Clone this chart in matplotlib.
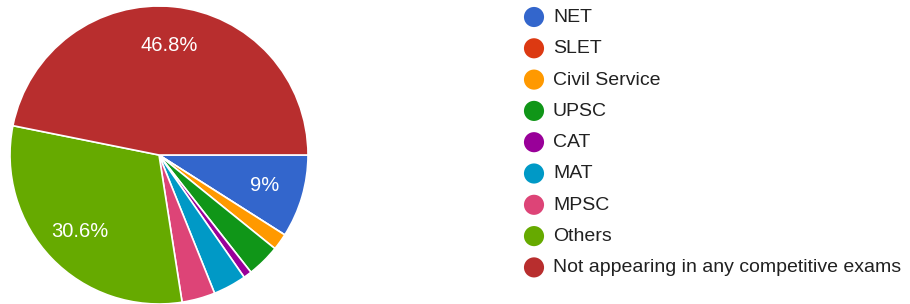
import math

import matplotlib
matplotlib.use("Agg")
import matplotlib.pyplot as plt

categories = ["NET", "SLET", "Civil Service", "UPSC", "CAT", "MAT", "MPSC",
              "Others", "Not appearing in any competitive exams"]
shares = [9.0, 0.0, 1.8, 3.6, 0.9, 3.6, 3.6, 30.6, 46.8]
colors = ["#3366cc", "#dc3912", "#ff9900", "#109618", "#990099", "#0099c6",
          "#dd4477", "#66aa00", "#b82e2e"]

plt.rcParams["font.family"] = ["Liberation Sans", "DejaVu Sans"]

W, H = 910, 304
fig = plt.figure(figsize=(W / 100, H / 100), dpi=100)

# ── pie ───────────────────────────────────────────────
ax = fig.add_axes([10 / W, 0 / H, 298 / W, 298 / H])
wedges, _ = ax.pie(shares, colors=colors, startangle=0, counterclock=False,
                   radius=1.0, wedgeprops=dict(edgecolor="white", linewidth=1.2))
ax.set_xlim(-1, 1)
ax.set_ylim(-1, 1)
ax.set_aspect("equal")
ax.axis("off")

# percentage labels only on the big slices
start = 0.0
for v in shares:
    mid = start - v / 100 * 360 / 2
    start -= v / 100 * 360
    if v >= 5:
        r = 0.74
        ax.text(r * math.cos(math.radians(mid)), r * math.sin(math.radians(mid)),
                f"{v:g}%", color="white", fontsize=14.5, ha="center", va="center")

# ── legend (drawn by hand, Google Forms style) ────────
lax = fig.add_axes([0, 0, 1, 1])
lax.set_xlim(0, W)
lax.set_ylim(H, 0)
lax.axis("off")
for i, (name, c) in enumerate(zip(categories, colors)):
    y = 17 + 31.3 * i
    lax.scatter([534], [y], s=210, color=c, edgecolors="none")
    lax.text(553, y + 0.5, name, fontsize=14, color="#212121", va="center", ha="left")

fig.savefig("out.png", dpi=100, facecolor="white")
